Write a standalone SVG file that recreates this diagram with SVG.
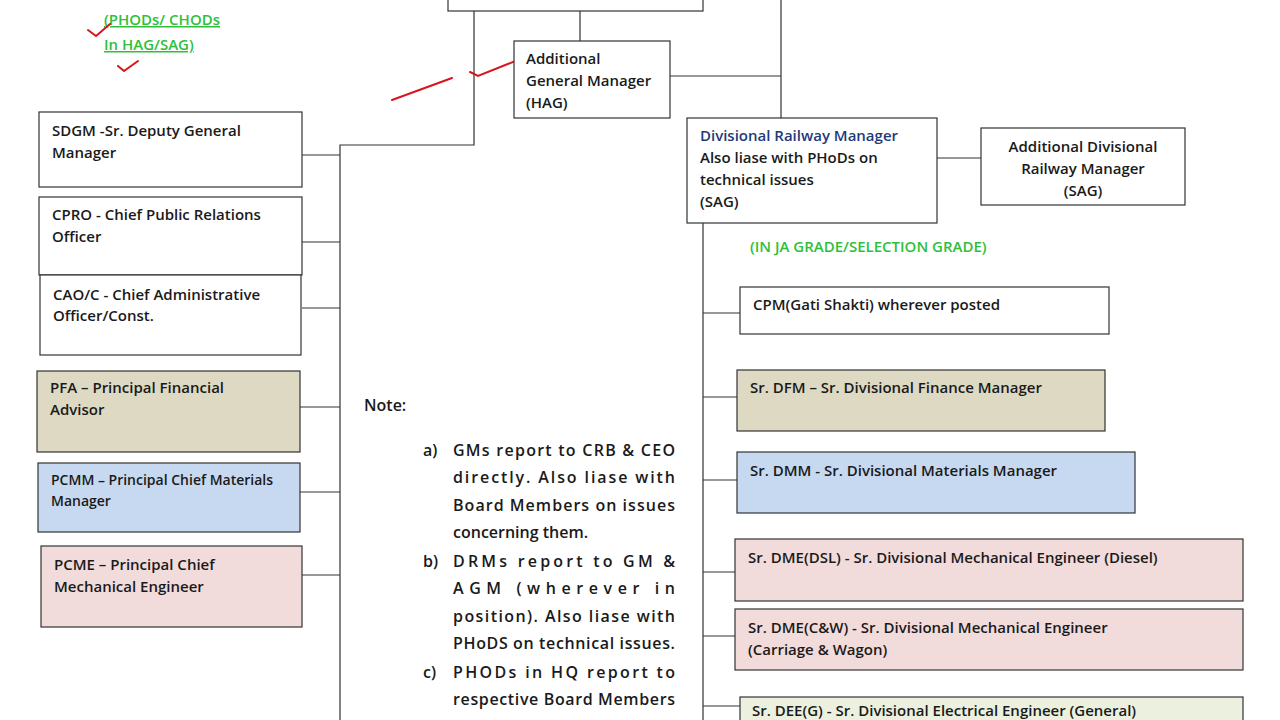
<svg xmlns="http://www.w3.org/2000/svg" width="1280" height="720" viewBox="0 0 1280 720">
<style>
text{font-family:"Open Sans","Liberation Sans",sans-serif;font-size:15px;font-weight:600;fill:#1a1a1a}
.b{stroke:#333;stroke-width:1.2}
.w{fill:#fff}.t{fill:#ddd9c3}.bl{fill:#c6d9f0}.p{fill:#f2dcdb}.g{fill:#ebf1de}
.ln{stroke:#333;stroke-width:1.2;fill:none}
.gr{fill:#2fbf3a}
.n{font-size:16px}
.pen{stroke:#d8141e;stroke-width:2;fill:none;stroke-linecap:round}
</style>
<rect width="1280" height="720" fill="#fff"/>
<g id="connectors">
<path class="ln" d="M474 0V145H340V720M302 155H340M302 242H340M302 308H340M300 407H340M300 492H340M302 575H340"/>
<path class="ln" d="M580 11V41M670 76H781M781 0V118M937 158H981M703 223V720M703 313H740M703 397H737M703 480H737M703 572H735M703 636H735M703 706H740"/>
</g>
<g id="top"><rect class="b w" x="448" y="-5" width="255" height="16"/></g>
<text class="gr" x="104" y="25" text-decoration="underline">(PHODs/ CHODs</text>
<text class="gr" x="104" y="50" text-decoration="underline">In HAG/SAG)</text>
<path class="pen" d="M88 30l8 6 14-12M118 66l6 5 14-10M392 100l60-22M470 72l8 4 40-16"/>
<g id="agm"><rect class="b w" x="514" y="41" width="156" height="77"/><text x="526" y="64">Additional</text><text x="526" y="86">General Manager</text><text x="526" y="108">(HAG)</text></g>
<g id="drm"><rect class="b w" x="687" y="118" width="250" height="105"/><text x="700" y="141" style="fill:#1f3a7a">Divisional Railway Manager</text><text x="700" y="163">Also liase with PHoDs on</text><text x="700" y="185">technical issues</text><text x="700" y="207">(SAG)</text></g>
<g id="adrm"><rect class="b w" x="981" y="128" width="204" height="77"/><text x="1083" y="152" text-anchor="middle">Additional Divisional</text><text x="1083" y="174" text-anchor="middle">Railway Manager</text><text x="1083" y="196" text-anchor="middle">(SAG)</text></g>
<text class="gr" x="750" y="252">(IN JA GRADE/SELECTION GRADE)</text>
<g id="sdgm"><rect class="b w" x="39" y="112" width="263" height="75"/><text x="52" y="136">SDGM -Sr. Deputy General</text><text x="52" y="158">Manager</text></g>
<g id="cpro"><rect class="b w" x="39" y="197" width="263" height="78"/><text x="52" y="220">CPRO - Chief Public Relations</text><text x="52" y="242">Officer</text></g>
<g id="cao"><rect class="b w" x="40" y="275" width="261" height="80"/><text x="53" y="300">CAO/C - Chief Administrative</text><text x="53" y="321">Officer/Const.</text></g>
<g id="pfa"><rect class="b t" x="37" y="371" width="263" height="81"/><text x="50" y="393">PFA – Principal Financial</text><text x="50" y="415">Advisor</text></g>
<g id="pcmm"><rect class="b bl" x="38" y="463" width="262" height="69"/><text x="51" y="485" style="font-size:14px">PCMM – Principal Chief Materials</text><text x="51" y="506" style="font-size:14px">Manager</text></g>
<g id="pcme"><rect class="b p" x="41" y="546" width="261" height="81"/><text x="54" y="570">PCME – Principal Chief</text><text x="54" y="592">Mechanical Engineer</text></g>
<g id="cpm"><rect class="b w" x="740" y="287" width="369" height="47"/><text x="753" y="310">CPM(Gati Shakti) wherever posted</text></g>
<g id="dfm"><rect class="b t" x="737" y="370" width="368" height="61"/><text x="750" y="393">Sr. DFM – Sr. Divisional Finance Manager</text></g>
<g id="dmm"><rect class="b bl" x="737" y="452" width="398" height="61"/><text x="750" y="476">Sr. DMM - Sr. Divisional Materials Manager</text></g>
<g id="dsl"><rect class="b p" x="735" y="539" width="508" height="62"/><text x="748" y="563">Sr. DME(DSL) - Sr. Divisional Mechanical Engineer (Diesel)</text></g>
<g id="cw"><rect class="b p" x="735" y="609" width="508" height="61"/><text x="748" y="633">Sr. DME(C&amp;W) - Sr. Divisional Mechanical Engineer</text><text x="748" y="655">(Carriage &amp; Wagon)</text></g>
<g id="dee"><rect class="b g" x="740" y="697" width="503" height="40"/><text x="752" y="716">Sr. DEE(G) - Sr. Divisional Electrical Engineer (General)</text></g>
<g id="note">
<text class="n" x="364" y="411">Note:</text>
<text class="n" x="423" y="456">a)</text>
<text class="n" x="453" y="456" textLength="222" lengthAdjust="spacing">GMs report to CRB &amp; CEO</text>
<text class="n" x="453" y="483" textLength="222" lengthAdjust="spacing">directly. Also liase with</text>
<text class="n" x="453" y="511" textLength="222" lengthAdjust="spacing">Board Members on issues</text>
<text class="n" x="453" y="538">concerning them.</text>
<text class="n" x="423" y="567">b)</text>
<text class="n" x="453" y="567" textLength="222" lengthAdjust="spacing">DRMs report to GM &amp;</text>
<text class="n" x="453" y="594" textLength="222" lengthAdjust="spacing">AGM (wherever in</text>
<text class="n" x="453" y="622" textLength="222" lengthAdjust="spacing">position). Also liase with</text>
<text class="n" x="453" y="649" textLength="222" lengthAdjust="spacing">PHoDS on technical issues.</text>
<text class="n" x="423" y="678">c)</text>
<text class="n" x="453" y="678" textLength="222" lengthAdjust="spacing">PHODs in HQ report to</text>
<text class="n" x="453" y="705" textLength="222" lengthAdjust="spacing">respective Board Members</text>
</g>
</svg>
